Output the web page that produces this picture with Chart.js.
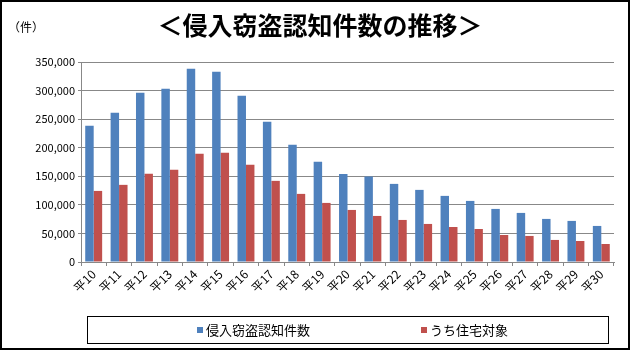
<!DOCTYPE html>
<html>
<head>
<meta charset="utf-8">
<script src="https://cdn.jsdelivr.net/npm/chart.js@4"></script>
<style>
  html, body { margin: 0; padding: 0; background: #fff; }
  #wrap { width: 634px; height: 351px; }
</style>
</head>
<body>
<div id="wrap"><canvas id="theftChart" width="634" height="351"></canvas></div>
<script>
const JP_FONT = '"Noto Sans CJK JP", "Noto Sans", sans-serif';

const years = ['平10', '平11', '平12', '平13', '平14', '平15', '平16', '平17', '平18', '平19', '平20',
    '平21', '平22', '平23', '平24', '平25', '平26', '平27', '平28', '平29', '平30'];
const burglaryTotal = [238400, 261200, 296200, 303300, 338300, 333000, 291000, 245400, 205100, 175300, 154200,
    149600, 136700, 126200, 115700, 106900, 92900, 85900, 75400, 71900, 63100];
const residential = [124400, 135000, 154300, 161300, 189300, 191100, 170000, 142000, 119200, 103400, 91100,
    80600, 73600, 66600, 61300, 57800, 47300, 45600, 38600, 36800, 31500];
const seriesNames = ['侵入窃盗認知件数', 'うち住宅対象'];
const titleText = '＜侵入窃盗認知件数の推移＞';
const unitText = '（件）';

// frame, title, unit label and boxed legend
const decorPlugin = {
    id: 'decor',
    afterDraw(chart) {
        const ctx = chart.ctx;
        ctx.save();
        ctx.strokeStyle = '#000';
        ctx.lineWidth = 2;
        ctx.strokeRect(1, 1, 628, 348);

        ctx.fillStyle = '#000';
        ctx.textBaseline = 'middle';
        ctx.textAlign = 'center';
        ctx.font = 'bold 25px ' + JP_FONT;
        ctx.fillText(titleText, 320, 25);

        ctx.textAlign = 'left';
        ctx.font = '12px ' + JP_FONT;
        ctx.fillText(unitText, 8, 27);

        // legend box
        ctx.lineWidth = 1;
        ctx.strokeRect(87.5, 316.5, 521, 27);
        ctx.font = '13px ' + JP_FONT;
        const xs = [197, 421];
        chart.data.datasets.forEach((ds, i) => {
            ctx.fillStyle = ds.backgroundColor;
            ctx.fillRect(xs[i], 327, 6, 6);
            ctx.fillStyle = '#000';
            ctx.fillText(ds.label, xs[i] + 9, 330);
        });
        ctx.restore();
    }
};

const ctx = document.getElementById('theftChart').getContext('2d');
new Chart(ctx, {
    type: 'bar',
    data: {
        labels: years,
        datasets: [{
            label: seriesNames[0],
            data: burglaryTotal,
            backgroundColor: '#4F81BD'
        }, {
            label: seriesNames[1],
            data: residential,
            backgroundColor: '#C0504D'
        }]
    },
    options: {
        responsive: false,
        animation: false,
        layout: { padding: { top: 62, right: 20, bottom: 0, left: 0 } },
        datasets: { bar: { categoryPercentage: 0.667, barPercentage: 1.0 } },
        plugins: {
            legend: { display: false },
            title: { display: false },
            tooltip: { enabled: false }
        },
        scales: {
            x: {
                offset: true,
                grid: { drawOnChartArea: false, drawTicks: true, tickLength: 4, color: '#888', offset: true },
                border: { display: true, color: '#888' },
                ticks: {
                    color: '#000',
                    font: { family: JP_FONT, size: 12 },
                    maxRotation: 45,
                    minRotation: 45,
                    autoSkip: false,
                    padding: 1
                },
                afterFit(scale) { scale.height = 89; }
            },
            y: {
                min: 0,
                max: 350000,
                grid: { color: '#888', tickLength: 3 },
                border: { display: true, color: '#888' },
                ticks: {
                    stepSize: 50000,
                    color: '#000',
                    padding: 3,
                    font: { family: JP_FONT, size: 11 },
                    callback: v => v.toLocaleString('en-US')
                },
                afterFit(scale) { scale.width = 81; }
            }
        }
    },
    plugins: [decorPlugin]
});
</script>
</body>
</html>
